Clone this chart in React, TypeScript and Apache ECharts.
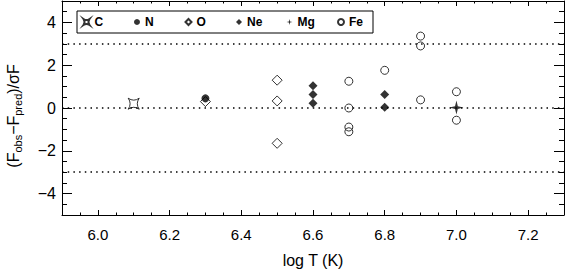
import React, { useEffect, useRef } from "react";
import * as echarts from "echarts";

// ---- data ----
const C_pts: [number, number][] = [[6.1, 0.2]];
const N_pts: [number, number][] = [[6.3, 0.45]];
const O_pts: [number, number][] = [[6.3, 0.3], [6.5, 1.3], [6.5, 0.33], [6.5, -1.65]];
const Ne_pts: [number, number][] = [[6.6, 1.04], [6.6, 0.63], [6.6, 0.22], [6.8, 0.63], [6.8, 0.03]];
const Mg_pts: [number, number][] = [[7.0, 0.02]];
const Fe_pts: [number, number][] = [
  [6.7, 1.25], [6.7, 0.0], [6.7, -0.89], [6.7, -1.11],
  [6.8, 1.76],
  [6.9, 3.36], [6.9, 2.9], [6.9, 0.38],
  [7.0, 0.76], [7.0, -0.57],
];
const refLines = [3, 0, -3];
const xMajor = [6.0, 6.2, 6.4, 6.6, 6.8, 7.0, 7.2];
const xMinor = [5.9, 5.95, 6.0, 6.05, 6.1, 6.15, 6.2, 6.25, 6.3, 6.35, 6.4, 6.45, 6.5, 6.55, 6.6, 6.65, 6.7, 6.75, 6.8, 6.85, 6.9, 6.95, 7.0, 7.05, 7.1, 7.15, 7.2, 7.25, 7.3];
const yMajor = [-4, -2, 0, 2, 4];
const yMinor = [-5, -4.5, -4, -3.5, -3, -2.5, -2, -1.5, -1, -0.5, 0, 0.5, 1, 1.5, 2, 2.5, 3, 3.5, 4, 4.5, 5];

const STAR4_CONCAVE = "path://M-1,-1 Q0,-0.3 1,-1 Q0.3,0 1,1 Q0,0.3 -1,1 Q-0.3,0 -1,-1 Z";
const STAR4 = "path://M0,-1 L0.2,-0.2 L1,0 L0.2,0.2 L0,1 L-0.2,0.2 L-1,0 L-0.2,-0.2 Z";

const FONT = "Liberation Sans, Arial, Helvetica, sans-serif";

export default function App() {
  const ref = useRef<HTMLDivElement>(null);
  useEffect(() => {
    if (!ref.current) return;
    const chart = echarts.init(ref.current, null, { renderer: "svg" });
    const X0 = 5.9, X1 = 7.3, Y0 = -5, Y1 = 5;
    const axisLineStyle = { color: "#000", width: 1 };
    const mkX = (pos: "bottom" | "top", vals: number[], len: number, labels: boolean, line: boolean) => ({
      type: "value", position: pos, min: X0, max: X1, gridIndex: 0,
      axisLine: { show: line, onZero: false, lineStyle: axisLineStyle },
      axisTick: { show: true, inside: true, length: len, customValues: vals, lineStyle: { color: "#000", width: 1 } },
      axisLabel: labels
        ? { show: true, customValues: xMajor, formatter: (v: number) => v.toFixed(1), color: "#000", fontFamily: FONT, fontSize: 15, margin: 12 }
        : { show: false },
      splitLine: { show: false },
      ...(labels ? { name: "log T (K)", nameLocation: "middle", nameGap: 37, nameTextStyle: { color: "#000", fontFamily: FONT, fontSize: 16 } } : {}),
    });
    const mkY = (pos: "left" | "right", vals: number[], len: number, labels: boolean, line: boolean) => ({
      type: "value", position: pos, min: Y0, max: Y1, gridIndex: 0,
      axisLine: { show: line, onZero: false, lineStyle: axisLineStyle },
      axisTick: { show: true, inside: true, length: len, customValues: vals, lineStyle: { color: "#000", width: 1 } },
      axisLabel: labels
        ? { show: true, customValues: yMajor, formatter: (v: number) => (v < 0 ? "\u2212" + Math.abs(v) : String(v)), color: "#000", fontFamily: FONT, fontSize: 16, margin: 6 }
        : { show: false },
      splitLine: { show: false },
    });
    const openStyle = { color: "rgba(0,0,0,0)", borderColor: "#000", borderWidth: 1 };
    const fillStyle = { color: "#000", borderColor: "#000", borderWidth: 0 };
    const sc = (name: string, data: [number, number][], symbol: string, size: any, style: any, z = 2) => ({
      type: "scatter", name, data, symbol, symbolSize: size, itemStyle: style, z,
      xAxisIndex: 0, yAxisIndex: 0, emphasis: { disabled: true }, silent: true,
    });
    const series: any[] = [
      sc("C", C_pts, STAR4_CONCAVE, 11, openStyle),
      sc("O", O_pts, "diamond", [10, 10], openStyle),
      sc("N", N_pts, "circle", 8, fillStyle, 3),
      sc("Ne", Ne_pts, "diamond", [9, 9], fillStyle),
      sc("Mg", Mg_pts, STAR4, 14, fillStyle),
      sc("Fe", Fe_pts, "circle", 8, openStyle),
    ];
    series[0].markLine = {
      silent: true, symbol: "none", label: { show: false },
      lineStyle: { color: "#000", width: 1.5, type: [1.5, 4.2] },
      data: refLines.map((v) => ({ yAxis: v })),
    };
    const legendData = [
      { name: "C", icon: STAR4_CONCAVE },
      { name: "N", icon: "circle" },
      { name: "O", icon: "diamond" },
      { name: "Ne", icon: "diamond" },
      { name: "Mg", icon: STAR4 },
      { name: "Fe", icon: "circle" },
    ];
    chart.setOption({
      animation: false,
      backgroundColor: "#fff",
      grid: { left: 62, right: 1, top: 1, bottom: 54, containLabel: false },
      xAxis: [mkX("bottom", xMajor, 5, true, true), mkX("bottom", xMinor, 2.5, false, false), mkX("top", xMajor, 5, false, true), mkX("top", xMinor, 2.5, false, false)],
      yAxis: [mkY("left", yMajor, 10, true, true), mkY("left", yMinor, 5, false, false), mkY("right", yMajor, 10, false, true), mkY("right", yMinor, 5, false, false)],
      legend: {
        show: true, left: 77, top: 11, orient: "horizontal",
        data: legendData,
        itemWidth: 6, itemHeight: 6, itemGap: 16.5,
        padding: [4, 1, 4, 5.5],
        borderColor: "#000", borderWidth: 1, backgroundColor: "#fff",
        textStyle: { color: "#000", fontFamily: FONT, fontWeight: "bold", fontSize: 12, width: 23, lineHeight: 14 },
        selectedMode: false,
      },
      graphic: [
        {
          type: "text", x: 13, y: 116, rotation: Math.PI / 2,
          style: {
            text: "(F{s|obs}\u2212F{s|pred})/\u03c3F",
            fill: "#000", font: `16px ${FONT}`, align: "center", verticalAlign: "middle",
            rich: {
              s: { fontSize: 11, fontFamily: FONT, fill: "#000", lineHeight: 11, verticalAlign: "bottom" },
            },
            lineHeight: 20,
          },
        },
      ],
      series,
    });
    return () => chart.dispose();
  }, []);
  return <div ref={ref} style={{ position: "absolute", left: 0, top: 0, width: 565, height: 273 }} />;
}
